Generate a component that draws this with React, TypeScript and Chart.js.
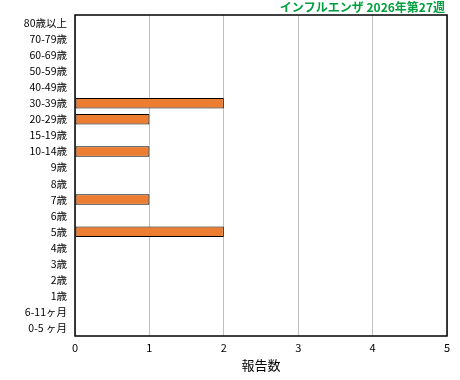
import React, { useEffect, useRef } from "react";
import { Chart, registerables } from "chart.js";

Chart.register(...registerables);

const categories = [
  "80歳以上", "70-79歳", "60-69歳", "50-59歳", "40-49歳", "30-39歳", "20-29歳",
  "15-19歳", "10-14歳", "9歳", "8歳", "7歳", "6歳", "5歳", "4歳", "3歳", "2歳",
  "1歳", "6-11ヶ月", "0-5 ヶ月",
];
const reports = [0, 0, 0, 0, 0, 2, 1, 0, 1, 0, 0, 1, 0, 2, 0, 0, 0, 0, 0, 0];
const titleText = "インフルエンザ 2026年第27週";
const xTitle = "報告数";

const FONT = "'Noto Sans CJK JP', 'DejaVu Sans', sans-serif";

export default function App() {
  const ref = useRef<HTMLCanvasElement>(null);
  useEffect(() => {
    const frame = {
      id: "frame",
      afterDraw(chart: any) {
        const { ctx, chartArea: a } = chart;
        ctx.save();
        ctx.strokeStyle = "#000";
        ctx.lineWidth = 1.5;
        ctx.strokeRect(a.left, a.top, a.right - a.left, a.bottom - a.top);
        ctx.fillStyle = "#00a040";
        ctx.font = `bold 12px ${FONT}`;
        ctx.textAlign = "right";
        ctx.textBaseline = "middle";
        ctx.fillText(titleText, a.right - 2, 7);
        ctx.restore();
      },
    };
    const chart = new Chart(ref.current!, {
      type: "bar",
      data: {
        labels: categories,
        datasets: [
          {
            data: reports,
            backgroundColor: "#ed7d31",
            borderColor: "#000",
            borderWidth: 1,
            borderSkipped: false,
            barPercentage: 0.65,
            categoryPercentage: 1,
          },
        ],
      },
      options: {
        indexAxis: "y",
        animation: false,
        responsive: false,
        layout: { padding: { top: 15, right: 13, bottom: 7, left: 0 } },
        plugins: { legend: { display: false }, tooltip: { enabled: false } },
        scales: {
          x: {
            min: 0,
            max: 5,
            ticks: { stepSize: 1, color: "#000", font: { family: FONT, size: 11 }, padding: 5 },
            grid: { color: "#c0c0c0", drawTicks: false },
            border: { display: false },
            title: { display: true, text: xTitle, color: "#000", font: { family: FONT, size: 13 }, padding: { top: 2, bottom: 0 } },
            afterFit(s: any) { s.height = 37; },
          },
          y: {
            ticks: { color: "#000", font: { family: FONT, size: 10.5 }, padding: 8, autoSkip: false },
            grid: { display: false, drawTicks: false },
            border: { display: false },
            afterFit(s: any) { s.width = 75; },
          },
        },
      },
      plugins: [frame],
    });
    return () => chart.destroy();
  }, []);
  return (
    <div style={{ position: "fixed", left: 0, top: 0, width: 460, height: 380, background: "#fff" }}>
      <canvas ref={ref} width={460} height={380} />
    </div>
  );
}
